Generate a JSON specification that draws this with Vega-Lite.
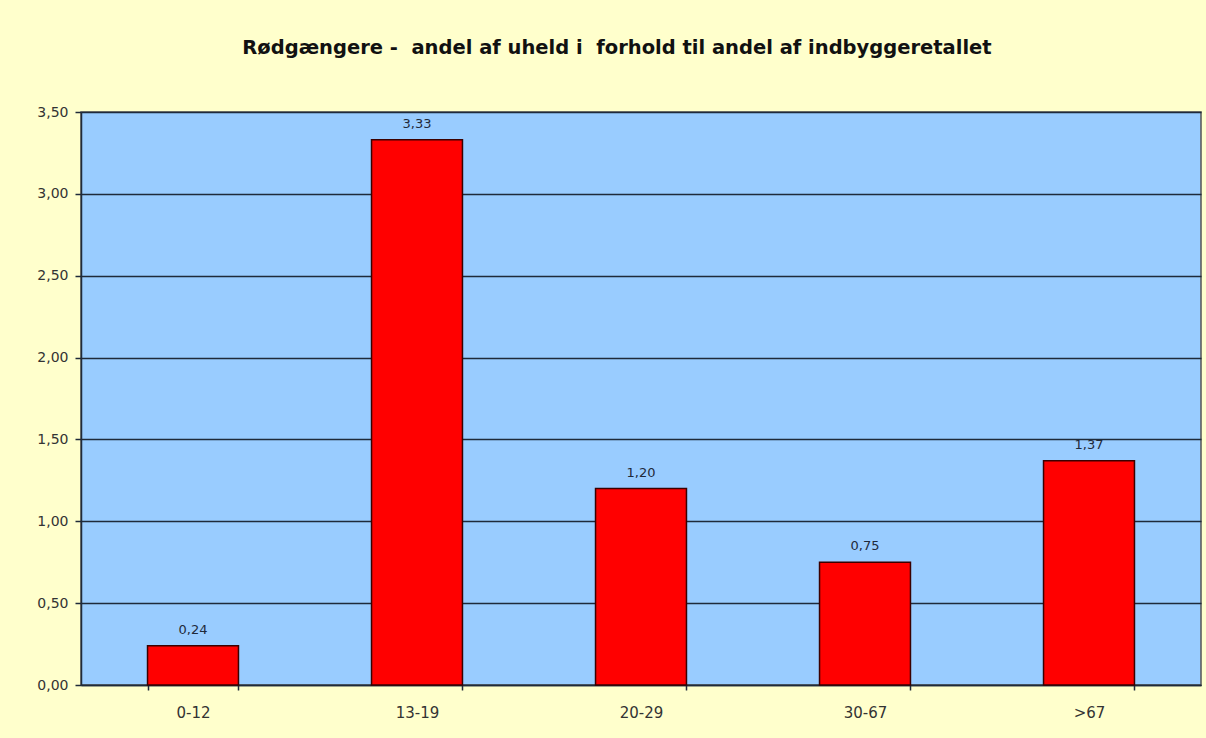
{
  "$schema": "https://vega.github.io/schema/vega-lite/v6.json",
  "width": 1120,
  "height": 573,
  "autosize": {"type": "none"},
  "padding": {"left": 81, "top": 112, "right": 5, "bottom": 53},
  "background": "#FFFFCC",
  "title": {
    "text": "Rødgængere -\u00a0 andel af uheld i\u00a0 forhold til andel af indbyggeretallet",
    "font": "DejaVu Sans",
    "fontSize": 19.5,
    "fontWeight": "bold",
    "color": "#111111",
    "anchor": "middle",
    "baseline": "alphabetic",
    "offset": 32,
    "dx": -24
  },
  "config": {
    "locale": {
      "number": {"decimal": ",", "thousands": ".", "grouping": [3], "currency": ["", " kr."]}
    },
    "view": {"fill": "#99CCFF", "stroke": "#555555", "strokeWidth": 1.5},
    "axis": {
      "labelFont": "DejaVu Sans",
      "labelFontSize": 14,
      "labelColor": "#333333",
      "domainColor": "#1f2a3a",
      "domainWidth": 1.5,
      "tickColor": "#1f2a3a",
      "tickWidth": 1.5
    }
  },
  "data": {
    "values": [
      {"alder": "0-12", "vaerdi": 0.24},
      {"alder": "13-19", "vaerdi": 3.33},
      {"alder": "20-29", "vaerdi": 1.20},
      {"alder": "30-67", "vaerdi": 0.75},
      {"alder": ">67", "vaerdi": 1.37}
    ]
  },
  "encoding": {
    "x": {
      "field": "alder",
      "type": "nominal",
      "sort": null,
      "scale": {"paddingInner": 0.594, "paddingOuter": 0.297},
      "axis": {
        "title": null,
        "labelAngle": 0,
        "labelFontSize": 15,
        "tickBand": "extent",
        "tickSize": 5,
        "labelPadding": 15,
        "grid": false
      }
    },
    "y": {
      "field": "vaerdi",
      "type": "quantitative",
      "scale": {"domain": [0, 3.5], "nice": false},
      "axis": {
        "title": null,
        "values": [0, 0.5, 1, 1.5, 2, 2.5, 3, 3.5],
        "format": ".2f",
        "grid": true,
        "gridColor": "#1f2a3a",
        "gridWidth": 1.5,
        "gridOpacity": 1,
        "tickSize": 6,
        "labelPadding": 7
      }
    }
  },
  "layer": [
    {
      "mark": {"type": "bar", "color": "#FF0000", "stroke": "#3a0000", "strokeWidth": 1.5}
    },
    {
      "mark": {
        "type": "text",
        "baseline": "alphabetic",
        "dy": -12,
        "font": "DejaVu Sans",
        "fontSize": 13,
        "color": "#1f2a3a"
      },
      "encoding": {
        "text": {"field": "vaerdi", "type": "quantitative", "format": ".2f"}
      }
    }
  ]
}
